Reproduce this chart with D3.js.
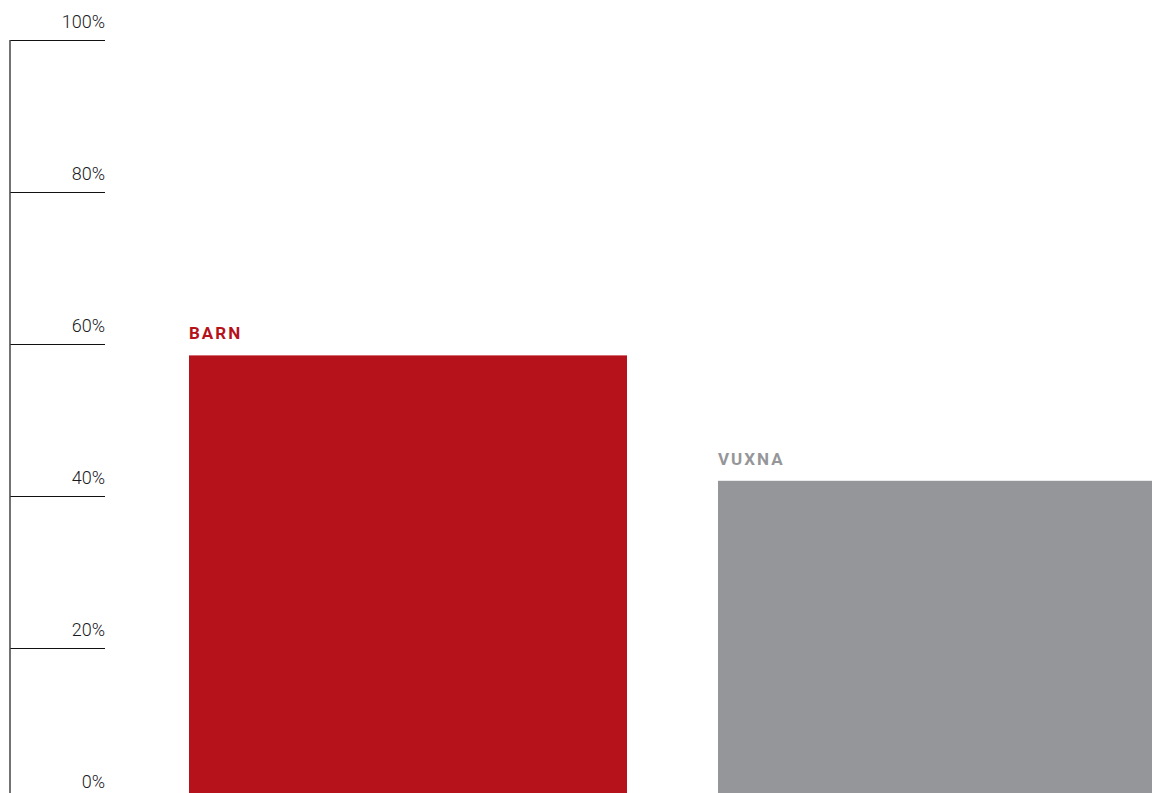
<!DOCTYPE html>
<html>
<head>
<meta charset="utf-8">
<script src="https://cdn.jsdelivr.net/npm/d3@7"></script>
<style>
  body { margin: 0; background: #fff; overflow: hidden; }
  .tick text { font-family: Roboto, "DejaVu Sans", sans-serif; font-weight: 300; font-size: 18px; fill: #1a1a1a; }
  .labels { font-family: Roboto, "DejaVu Sans", sans-serif; font-weight: 700; font-size: 17px; letter-spacing: 2px; }
</style>
</head>
<body>
<div id="chart"></div>
<script>
// datos del grafico
const categories = ["BARN", "VUXNA"];
const values = [58.5, 42];
const colors = ["#b5121b", "#959699"];
const tickValues = [0, 20, 40, 60, 80, 100];

const width = 1152;
const height = 793;

const svg = d3.select("#chart")
  .append("svg")
  .attr("width", width)
  .attr("height", height);

// escaladores
const x = d3.scaleBand()
  .domain(categories)
  .range([189, 1156])
  .paddingInner(0.172)
  .paddingOuter(0);

const y = d3.scaleLinear().domain([0, 100]).range([800, 40]);

// eje y: lineas de marca hacia la derecha con etiqueta encima
const yAxis = svg.append("g")
  .attr("transform", "translate(10,0)")
  .call(d3.axisRight(y).tickValues(tickValues).tickSize(95).tickFormat((d) => d + "%"));

yAxis.select(".domain").remove();
yAxis.selectAll(".tick line").attr("stroke", "#111");
yAxis.selectAll(".tick text")
  .attr("x", 95)
  .attr("dy", 0)
  .attr("y", -13)
  .attr("text-anchor", "end");

yAxis.append("line")
  .attr("x1", 0).attr("x2", 0)
  .attr("y1", y(100)).attr("y2", y(0))
  .attr("stroke", "#444")
  .attr("stroke-width", 1.5);

// barras
svg.selectAll("rect.bar")
  .data(categories)
  .join("rect")
  .attr("class", "bar")
  .attr("x", (d) => x(d))
  .attr("y", (d, i) => y(values[i]))
  .attr("width", x.bandwidth())
  .attr("height", (d, i) => y(0) - y(values[i]))
  .attr("fill", (d, i) => colors[i]);

// etiquetas de categoria
svg.selectAll("text.cat")
  .data(categories)
  .join("text")
  .attr("class", "labels cat")
  .attr("x", (d) => x(d))
  .attr("y", (d, i) => y(values[i]) - 16)
  .attr("fill", (d, i) => colors[i])
  .text((d) => d);
</script>
</body>
</html>
